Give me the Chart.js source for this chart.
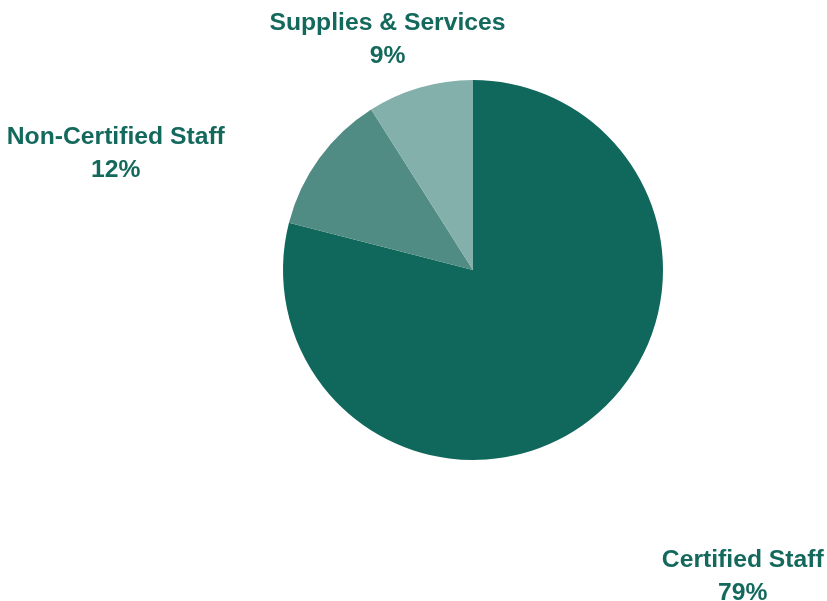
<!DOCTYPE html>
<html>
<head>
<meta charset="utf-8">
<script src="https://cdn.jsdelivr.net/npm/chart.js@4"></script>
<style>
  html, body { margin: 0; padding: 0; background: #fff; }
  #wrap { width: 827px; height: 601px; position: relative; }
</style>
</head>
<body>
<div id="wrap"><canvas id="c"></canvas></div>
<script>
// data
const categories = ['Certified Staff', 'Non-Certified Staff', 'Supplies & Services']
const shares = [79, 12, 9]
const sliceColors = ['#10685c', '#508c84', '#84b0ab']

// label placement, in units of the pie radius from its centre
const labelSpots = [[1.42, 1.61], [-1.88, -0.615], [-0.45, -1.215]]

const textColor = '#14695d'

// draws the category name and percent outside each slice
const outsideLabels = {
    id: 'outsideLabels',
    afterDraw(chart) {
        const ctx = chart.ctx
        const meta = chart.getDatasetMeta(0)
        ctx.save()
        ctx.fillStyle = textColor
        ctx.font = 'bold 24.7px "Liberation Sans", Arial, sans-serif'
        ctx.textAlign = 'center'
        ctx.textBaseline = 'middle'
        meta.data.forEach((arc, i) => {
            const r = arc.outerRadius
            const x = arc.x + labelSpots[i][0] * r
            const y = arc.y + labelSpots[i][1] * r
            ctx.fillText(categories[i], x, y - 16)
            ctx.fillText(shares[i] + '%', x, y + 17)
        })
        ctx.restore()
    }
}

new Chart(document.getElementById('c').getContext('2d'), {
    type: 'pie',
    data: {
        labels: categories,
        datasets: [{
            data: shares,
            backgroundColor: sliceColors,
            borderWidth: 0
        }]
    },
    options: {
        responsive: true,
        maintainAspectRatio: false,
        animation: false,
        layout: {
            padding: { left: 249, right: 130, top: 80, bottom: 141 }
        },
        plugins: {
            legend: { display: false },
            tooltip: { enabled: false }
        }
    },
    plugins: [outsideLabels]
})
</script>
</body>
</html>
